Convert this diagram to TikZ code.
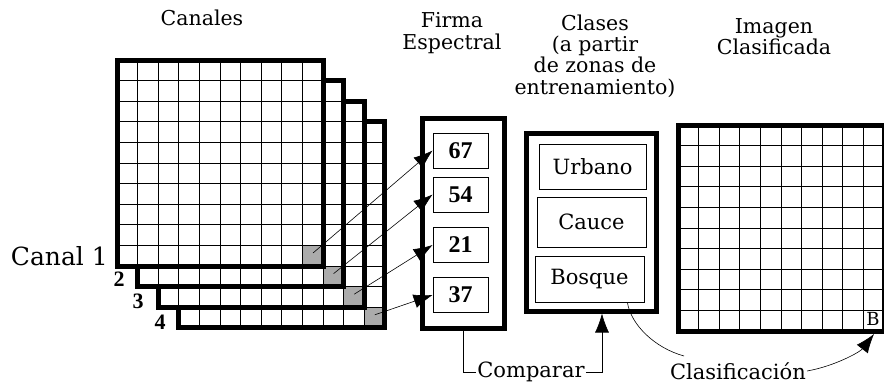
\documentclass[tikz,border=0pt]{standalone}
\usepackage{fontspec}
\setmainfont{DejaVu Serif}
\newfontfamily\numfont{Liberation Serif}
\usetikzlibrary{arrows.meta,positioning,calc}

\tikzset{
  cellline/.style={line width=1pt},
  frame/.style={draw, line width=5pt},
  shadecell/.style={fill=black!33},
  valbox/.style={draw, line width=0.8pt, minimum width=55pt, minimum height=35pt,
    inner sep=0pt, font=\numfont\bfseries\fontsize{24}{24}\selectfont},
  classbox/.style={draw, line width=0.8pt, inner sep=0pt, font=\fontsize{21}{21}\selectfont},
  title/.style={align=center, inner sep=0pt, font=\fontsize{20.5}{21.3}\selectfont},
  label/.style={inner sep=1pt, font=\fontsize{21}{21}\selectfont},
  chnum/.style={inner sep=0pt, font=\numfont\bfseries\fontsize{22}{22}\selectfont},
  link/.style={-{Latex[length=19pt,width=14pt]}, line width=0.6pt},
}

\begin{document}
\begin{tikzpicture}[x=1pt,y=-1pt]
  \useasboundingbox (0,0) rectangle (884,384);

  % canales, del 4 (atras) al 1 (delante)
  \foreach \n/\k in {4/3,3/2,2/1,1/0} {
    \begin{scope}[shift={(\k*20.6,\k*20.6)}]
      \fill[white] (117,60) rectangle (323,266);
      \fill[shadecell] (302.4,245.4) rectangle (323,266);
      \foreach \j in {1,...,9} {
        \draw[cellline] (117+\j*20.6,60) -- (117+\j*20.6,266);
        \draw[cellline] (117,60+\j*20.6) -- (323,60+\j*20.6);
      }
      \draw[frame] (117,60) rectangle (323,266);
      \coordinate (g\n) at (313,253);
    \end{scope}
  }

  \node[title] (tcan) at (202,18) {Canales};
  \node[label, anchor=east, font=\fontsize{25}{25}\selectfont] (can1) at (109,256) {Canal 1};
  \node[chnum] (n2) at (119,279) {2};
  \node[chnum] (n3) at (138,301) {3};
  \node[chnum] (n4) at (160,322) {4};

  % firma espectral
  \node[title] (tfirma) at (452,33) {Firma\\Espectral};
  \node[frame, minimum width=82pt, minimum height=210pt] (firma) at (463,223) {};
  \node[valbox] (v67) at (460.5,150.5) {67};
  \node[valbox] (v54) at (460.5,194.5) {54};
  \node[valbox] (v21) at (460.5,245) {21};
  \node[valbox] (v37) at (460.5,295) {37};

  \draw[link] (g1) -- (v67.west);
  \draw[link] (g2) -- (v54.west);
  \draw[link] (g3) -- (v21.west);
  \draw[link] (g4) -- (v37.west);

  % clases
  \node[title] (tclases) at (595,56) {Clases\\(a partir\\de zonas de\\entrenamiento)};
  \node[frame, minimum width=130pt, minimum height=178pt] (clases) at (591,222) {};
  \node[classbox, minimum width=107pt, minimum height=45pt] (urb) at (592.5,166.5) {Urbano};
  \node[classbox, minimum width=109pt, minimum height=50pt] (cau) at (591.5,222) {Cauce};
  \node[classbox, minimum width=109pt, minimum height=46pt] (bos) at (589.5,279) {Bosque};

  % imagen clasificada
  \node[title] (timg) at (774,37) {Imagen\\Clasificada};
  \foreach \j in {1,...,9} {
    \draw[cellline] (678+\j*20.6,125) -- (678+\j*20.6,331);
    \draw[cellline] (678,125+\j*20.6) -- (884,125+\j*20.6);
  }
  \draw[frame] (678,125) rectangle (884,331);
  \node[inner sep=0pt, font=\fontsize{18}{18}\selectfont] (bcell) at (873,319) {B};

  % comparar y clasificacion
  \node[label] (cmp) at (531,372) {Comparar};
  \draw[line width=0.6pt] (firma.south) |- (cmp.west);
  \draw[link] (cmp.east) -| ([xshift=11pt]clases.south);

  \node[label] (cls) at (738,371) {Clasificación};
  \draw[line width=0.6pt] ([xshift=-17pt]bos.south east) .. controls (631,325) and (655,348) .. (684,356);
  \draw[link] (cls.east) .. controls (835,366) and (860,352) .. (874,334);
\end{tikzpicture}
\end{document}
